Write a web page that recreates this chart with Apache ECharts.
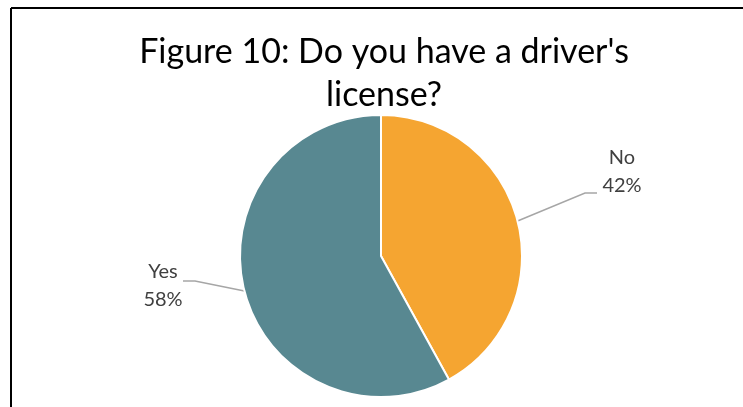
<!DOCTYPE html>
<html>
<head>
<meta charset="utf-8">
<script src="https://cdn.jsdelivr.net/npm/echarts@6/dist/echarts.min.js"></script>
<style>
html,body{margin:0;padding:0;background:#fff;}
#chart{width:743px;height:407px;}
</style>
</head>
<body>
<div id="chart"></div>
<script>
const titleText = "Figure 10: Do you have a driver's\nlicense?";
const categories = ["No", "Yes"];
const values = [42, 58];
const colors = ["#F5A531", "#588891"];

// label placement (styling only)
const labelPos = [
  { x: 622, y: 172, bend: [585, 193], end: [597, 193] },
  { x: 163, y: 286, bend: [195, 281], end: [183, 281] }
];

const chart = echarts.init(document.getElementById('chart'));
chart.setOption({
  backgroundColor: '#fff',
  animation: false,
  title: {
    text: titleText,
    left: 379,
    top: 26,
    padding: 5,
    textAlign: 'center',
    textStyle: {
      fontFamily: 'Lato',
      fontWeight: 'normal',
      fontSize: 34,
      lineHeight: 43,
      color: '#000'
    }
  },
  graphic: [
    { type: 'line', shape: { x1: 11, y1: 8, x2: 743, y2: 8 }, style: { stroke: '#000', lineWidth: 2 } },
    { type: 'line', shape: { x1: 11, y1: 8, x2: 11, y2: 407 }, style: { stroke: '#000', lineWidth: 2 } }
  ],
  series: [{
    type: 'pie',
    center: [381, 256],
    radius: 141,
    startAngle: 90,
    clockwise: true,
    itemStyle: { borderColor: '#fff', borderWidth: 2 },
    label: {
      show: true,
      position: 'outside',
      formatter: '{b}\n{d}%',
      fontFamily: 'Lato',
      fontSize: 20,
      lineHeight: 28,
      color: '#404040',
      align: 'center'
    },
    labelLine: {
      show: true,
      length: 40,
      length2: 12,
      lineStyle: { color: '#A6A6A6', width: 1.5 }
    },
    labelLayout: function (params) {
      const lp = labelPos[params.dataIndex];
      const pts = params.labelLinePoints;
      return {
        x: lp.x,
        y: lp.y,
        align: 'center',
        verticalAlign: 'middle',
        labelLinePoints: [pts[0], lp.bend, lp.end]
      };
    },
    data: categories.map((c, i) => ({ name: c, value: values[i], itemStyle: { color: colors[i] } }))
  }]
});
</script>
</body>
</html>
